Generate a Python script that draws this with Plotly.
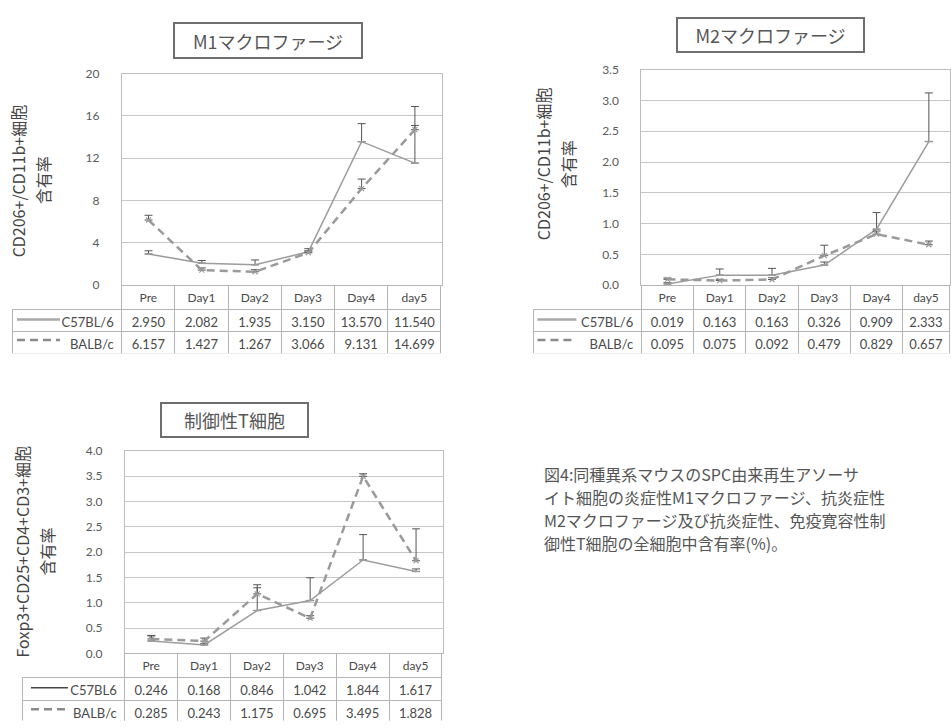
import plotly.graph_objects as go

# ---- data -------------------------------------------------------------
days = ["Pre", "Day1", "Day2", "Day3", "Day4", "day5"]
x_pos = list(range(len(days)))

m1_c57 = [2.950, 2.082, 1.935, 3.150, 13.570, 11.540]
m1_balb = [6.157, 1.427, 1.267, 3.066, 9.131, 14.699]
m1_c57_err = [0.30, 0.25, 0.45, 0.30, 1.70, 5.35]
m1_balb_err = [0.45, 0.20, 0.20, 0.20, 0.90, 0.40]

m2_c57 = [0.019, 0.163, 0.163, 0.326, 0.909, 2.333]
m2_balb = [0.095, 0.075, 0.092, 0.479, 0.829, 0.657]
m2_c57_err = [0.02, 0.10, 0.11, 0.05, 0.27, 0.79]
m2_balb_err = [0.02, 0.02, 0.03, 0.17, 0.05, 0.06]

tr_c57 = [0.246, 0.168, 0.846, 1.042, 1.844, 1.617]
tr_balb = [0.285, 0.243, 1.175, 0.695, 3.495, 1.828]
tr_c57_err = [0.10, 0.03, 0.45, 0.45, 0.50, 0.05]
tr_balb_err = [0.07, 0.06, 0.18, 0.05, 0.05, 0.63]

W, H = 951, 728
JP = "Noto Sans CJK JP"
NUM = "Lato"
TXT = "#4a4a4a"
GRID = "#c6c6c6"
TBL = "#b4b4b4"
CLEAR = "rgba(0,0,0,0)"


def px(x):
    return x / W


def py(y):
    return 1 - y / H


fig = go.Figure()


def add_series(c57, c57_err, balb, balb_err, xa, ya):
    fig.add_trace(go.Scatter(
        x=x_pos, y=c57, mode="lines+markers", xaxis=xa, yaxis=ya,
        line=dict(color="#9c9c9c", width=1.5),
        marker=dict(symbol="line-ew-open", size=5, line=dict(color="#666", width=1.5)),
        error_y=dict(type="data", symmetric=False, array=c57_err,
                     arrayminus=[0] * len(c57), color="#555", thickness=1, width=4),
        showlegend=False))
    fig.add_trace(go.Scatter(
        x=x_pos, y=balb, mode="lines+markers", xaxis=xa, yaxis=ya,
        line=dict(color="#9a9a9a", width=2.5, dash="8px,5px"),
        marker=dict(symbol="x-thin-open", size=5, line=dict(color="#666", width=1.2)),
        error_y=dict(type="data", symmetric=False, array=balb_err,
                     arrayminus=[0] * len(balb), color="#555", thickness=1, width=4),
        showlegend=False))


add_series(m1_c57, m1_c57_err, m1_balb, m1_balb_err, "x", "y")
add_series(m2_c57, m2_c57_err, m2_balb, m2_balb_err, "x2", "y2")
add_series(tr_c57, tr_c57_err, tr_balb, tr_balb_err, "x3", "y3")


def add_table(c57, balb, labels, left, plot_left, plot_right, top, header_h, cell_h, last_w=None):
    col_w = (plot_right - plot_left) / 6
    widths = [plot_left - left] + [col_w] * 6
    right = plot_right
    if last_w is not None:
        widths[-1] = last_w
        right = plot_left + col_w * 5 + last_w
    bottom = top + header_h + 2 * cell_h + 2
    fig.add_trace(go.Table(
        domain=dict(x=[px(left), min(px(right), 1.0)], y=[max(py(bottom), 0.0), py(top)]),
        columnwidth=widths,
        header=dict(values=[""] + days, height=header_h,
                    fill=dict(color=[CLEAR] + ["white"] * 6),
                    line=dict(color=[CLEAR] + [TBL] * 6, width=1),
                    align="center",
                    font=dict(family=NUM, size=12, color=TXT)),
        cells=dict(values=[labels] + [[f"{a:.3f}", f"{b:.3f}"] for a, b in zip(c57, balb)],
                   height=cell_h,
                   fill=dict(color="white"),
                   line=dict(color=TBL, width=1),
                   align=["right"] + ["center"] * 6,
                   font=dict(family=NUM, size=13, color=TXT)),
    ))


add_table(m1_c57, m1_balb, ["C57BL/6", "BALB/c"], 13, 122, 442, 283, 24, 22)
add_table(m2_c57, m2_balb, ["C57BL/6", "BALB/c"], 534, 642, 956, 283, 24, 22, last_w=951 - 904)
add_table(tr_c57, tr_balb, ["C57BL6", "BALB/c"], 23, 125, 443, 659, 24, 23)

# ---- axes -------------------------------------------------------------
xcommon = dict(showgrid=False, zeroline=False, showticklabels=False, ticks="",
               showline=True, mirror=True, linecolor="#bdbdbd", linewidth=1)
ycommon = dict(showgrid=True, gridcolor=GRID, gridwidth=1, zeroline=False,
               showline=True, mirror=True, linecolor="#bdbdbd", linewidth=1,
               ticks="", ticklabelstandoff=19,
               tickfont=dict(family=NUM, size=12, color="#5a5a5a"))

layout = dict(
    width=W, height=H, margin=dict(l=0, r=0, t=0, b=0),
    paper_bgcolor="white", plot_bgcolor="white",
    xaxis=dict(domain=[px(122), px(442)], range=[-0.5, 5.5], anchor="y", **xcommon),
    yaxis=dict(domain=[py(283), py(67)], range=[0, 20], dtick=4, anchor="x", **ycommon),
    xaxis2=dict(domain=[px(642), 1.0], range=[-0.5, 5.5 - 6 / (956 - 642) * 5], anchor="y2", **xcommon),
    yaxis2=dict(domain=[py(283), py(63)], range=[0, 3.5], dtick=0.5, tickformat=".1f",
                anchor="x2", **ycommon),
    xaxis3=dict(domain=[px(125), px(443)], range=[-0.5, 5.5], anchor="y3", **xcommon),
    yaxis3=dict(domain=[py(659), py(452)], range=[0, 4], dtick=0.5, tickformat=".1f",
                anchor="x3", **ycommon),
)
fig.update_layout(**layout)

# ---- titles, axis titles, caption -------------------------------------
annotations = []


def title_box(text, cx, cy, w, h):
    annotations.append(dict(
        text=text, x=px(cx), y=py(cy), xref="paper", yref="paper",
        xanchor="center", yanchor="middle", showarrow=False,
        width=w, height=h, borderpad=0, borderwidth=2, bordercolor="#6e6e6e",
        bgcolor="white", font=dict(family=JP, size=18, color="#555")))


title_box("M1マクロファージ", 268, 33.5, 186, 33)
title_box("M2マクロファージ", 771.5, 28, 185, 32)
title_box("制御性T細胞", 234.5, 421, 145, 32)


def y_title(line1, line2, x1, x2, cy):
    for text, x in ((line1, x1), (line2, x2)):
        annotations.append(dict(
            text=text, x=px(x), y=py(cy), xref="paper", yref="paper",
            xanchor="center", yanchor="middle", showarrow=False, textangle=-90,
            font=dict(family=JP, size=16, color="#444")))


y_title("CD206+/CD11b+細胞", "含有率", 18, 43, 176)
y_title("CD206+/CD11b+細胞", "含有率", 543, 568, 159)
y_title("Foxp3+CD25+CD4+CD3+細胞", "含有率", 22, 47, 555)

# figure caption, one annotation per line
caption = [
    "図4:同種異系マウスのSPC由来再生アソーサ",
    "イト細胞の炎症性M1マクロファージ、抗炎症性",
    "M2マクロファージ及び抗炎症性、免疫寛容性制",
    "御性T細胞の全細胞中含有率(%)。",
]
line_gap = 23.3
first_y = 511 - line_gap * (len(caption) - 1) / 2
for i, line in enumerate(caption):
    annotations.append(dict(
        text=line, x=px(543), y=py(first_y + i * line_gap), xref="paper", yref="paper",
        xanchor="left", yanchor="middle", align="left", showarrow=False,
        font=dict(family=JP, size=16, color="#555")))

fig.update_layout(annotations=annotations)

# legend line samples inside the first table column
shapes = []


def legend_samples(x0, x1, y_solid, y_dash, solid_color, solid_width):
    shapes.append(dict(type="line", xref="paper", yref="paper",
                       x0=px(x0), x1=px(x1), y0=py(y_solid), y1=py(y_solid),
                       line=dict(color=solid_color, width=solid_width)))
    shapes.append(dict(type="line", xref="paper", yref="paper",
                       x0=px(x0), x1=px(x1), y0=py(y_dash), y1=py(y_dash),
                       line=dict(color="#8a8a8a", width=2.5, dash="8px,5px")))


legend_samples(17, 60, 318, 339, "#a8a8a8", 2.5)
legend_samples(538, 577, 318, 339, "#a8a8a8", 2.5)
legend_samples(31, 68, 694, 716, "#444444", 1.5)
fig.update_layout(shapes=shapes)

fig.write_html("out.html")
